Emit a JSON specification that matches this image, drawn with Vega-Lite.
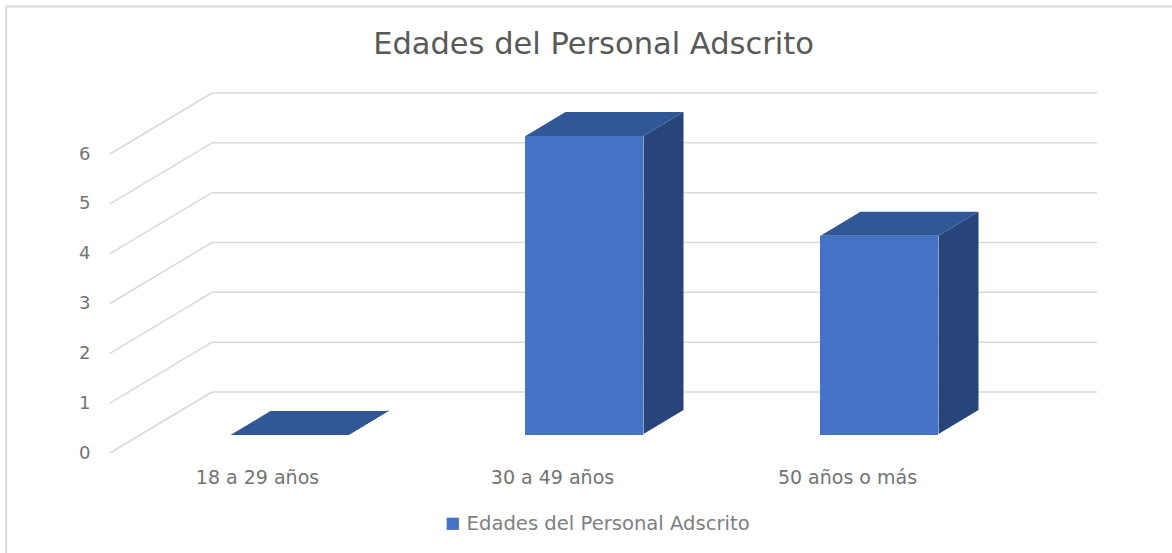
{
"$schema":"https://vega.github.io/schema/vega-lite/v6.json",
"width":885,"height":299,
"autosize":"none",
"padding":{"left":110,"top":154,"right":177,"bottom":100},
"background":"#ffffff",
"config":{"view":{"stroke":null},"font":"DejaVu Sans"},
"title":{"text":"Edades del Personal Adscrito","fontSize":30.5,"fontWeight":"normal","font":"DejaVu Sans","color":"#595959","anchor":"middle","dx":41,"offset":0,"dy":55},
"datasets":{
"edades":[
{"categoria":"18 a 29 años","personas":0,"serie":"Edades del Personal Adscrito"},
{"categoria":"30 a 49 años","personas":6,"serie":"Edades del Personal Adscrito"},
{"categoria":"50 años o más","personas":4,"serie":"Edades del Personal Adscrito"}
],
"marcas":[{"nivel":0},{"nivel":1},{"nivel":2},{"nivel":3},{"nivel":4},{"nivel":5},{"nivel":6}]
},
"layer":[
{"data":{"name":"marcas"},"mark":{"type":"rule","color":"#d9d9d9","strokeWidth":1.5,"xOffset":102,"x2Offset":102,"yOffset":-61},
 "encoding":{"x":{"datum":0,"type":"quantitative","scale":{"domain":[0,3]},"axis":null},"x2":{"datum":3},
 "y":{"field":"nivel","type":"quantitative","scale":{"domain":[0,6],"nice":false},
  "axis":{"title":null,"domain":false,"ticks":false,"grid":false,"values":[0,1,2,3,4,5,6],"labelFontSize":18,"labelColor":"#737373","labelPadding":20,"labelFont":"DejaVu Sans"}}}},
{"data":{"values":[{"marco":1}]},"mark":{"type":"rule","color":"#d9d9d9","strokeWidth":2},
 "encoding":{"x":{"datum":-0.352,"type":"quantitative","scale":{"domain":[0,3]},"axis":null},"x2":{"datum":3.7},"y":{"datum":8.96,"type":"quantitative","scale":{"domain":[0,6],"nice":false}}}},
{"data":{"values":[{"marco":1}]},"mark":{"type":"rule","color":"#d9d9d9","strokeWidth":2},
 "encoding":{"x":{"datum":-0.352,"type":"quantitative","scale":{"domain":[0,3]},"axis":null},"y":{"datum":8.96,"type":"quantitative","scale":{"domain":[0,6],"nice":false}},"y2":{"datum":-2.1}}},
{"data":{"name":"marcas"},"mark":{"type":"rule","color":"#d9d9d9","strokeWidth":1.5,"x2Offset":102,"y2Offset":-61},
 "encoding":{"x":{"datum":0,"type":"quantitative","scale":{"domain":[0,3]},"axis":null},"x2":{"datum":0},
 "y":{"field":"nivel","type":"quantitative","scale":{"domain":[0,6],"nice":false}},"y2":{"field":"nivel"}}},
{"data":{"name":"edades"},
 "transform":[{"window":[{"op":"row_number","as":"i"}]},{"calculate":"[0,1]","as":"k"},{"flatten":["k"]},
  {"calculate":"datum.i-0.3+0.1085+datum.k*0.1356","as":"xs"},
  {"calculate":"datum.personas+0.3613+datum.k*0.4816","as":"arriba"},
  {"calculate":"0.3813+datum.k*0.4816","as":"abajo"}],
 "mark":{"type":"area","orient":"vertical","color":"#27457B","opacity":1},
 "encoding":{"x":{"field":"xs","type":"quantitative","scale":{"domain":[0,3]},"axis":null},
 "y":{"field":"arriba","type":"quantitative","scale":{"domain":[0,6],"nice":false}},"y2":{"field":"abajo"},"detail":{"field":"categoria"}}},
{"data":{"name":"edades"},
 "transform":[{"window":[{"op":"row_number","as":"i"}]},{"calculate":"[0,1,2,3]","as":"k"},{"flatten":["k"]},
  {"calculate":"datum.i-0.7+0.1085+[0,0.1356,0.4,0.5356][datum.k]","as":"xs"},
  {"calculate":"datum.personas+0.3613+(datum.k==0?0:0.4816)","as":"arriba"},
  {"calculate":"datum.personas+0.3613+(datum.k==3?0.4816:0)","as":"abajo"}],
 "mark":{"type":"area","orient":"vertical","color":"#325797","opacity":1},
 "encoding":{"x":{"field":"xs","type":"quantitative","scale":{"domain":[0,3]},"axis":null},
 "y":{"field":"arriba","type":"quantitative","scale":{"domain":[0,6],"nice":false}},"y2":{"field":"abajo"},"detail":{"field":"categoria"}}},
{"data":{"name":"edades"},
 "mark":{"type":"bar","xOffset":31.5,"yOffset":-18,"y2Offset":-19},
 "encoding":{"x":{"field":"categoria","type":"nominal","sort":null,"scale":{"paddingInner":0.6,"paddingOuter":0.3},
  "axis":{"title":null,"domain":false,"ticks":false,"labelAngle":0,"labelFontSize":19,"labelColor":"#737373","labelPadding":15,"labelFont":"DejaVu Sans"}},
 "y":{"field":"personas","type":"quantitative","scale":{"domain":[0,6],"nice":false}},
 "color":{"field":"serie","type":"nominal","scale":{"range":["#4472C4"]},
  "legend":{"title":null,"orient":"none","legendX":333,"legendY":360,"symbolType":"square","symbolSize":150,"labelFontSize":19.6,"labelLimit":500,"labelColor":"#7f7f7f","labelFont":"DejaVu Sans"}}}}
],
"resolve":{"scale":{"x":"independent"},"axis":{"x":"independent"}}
}
